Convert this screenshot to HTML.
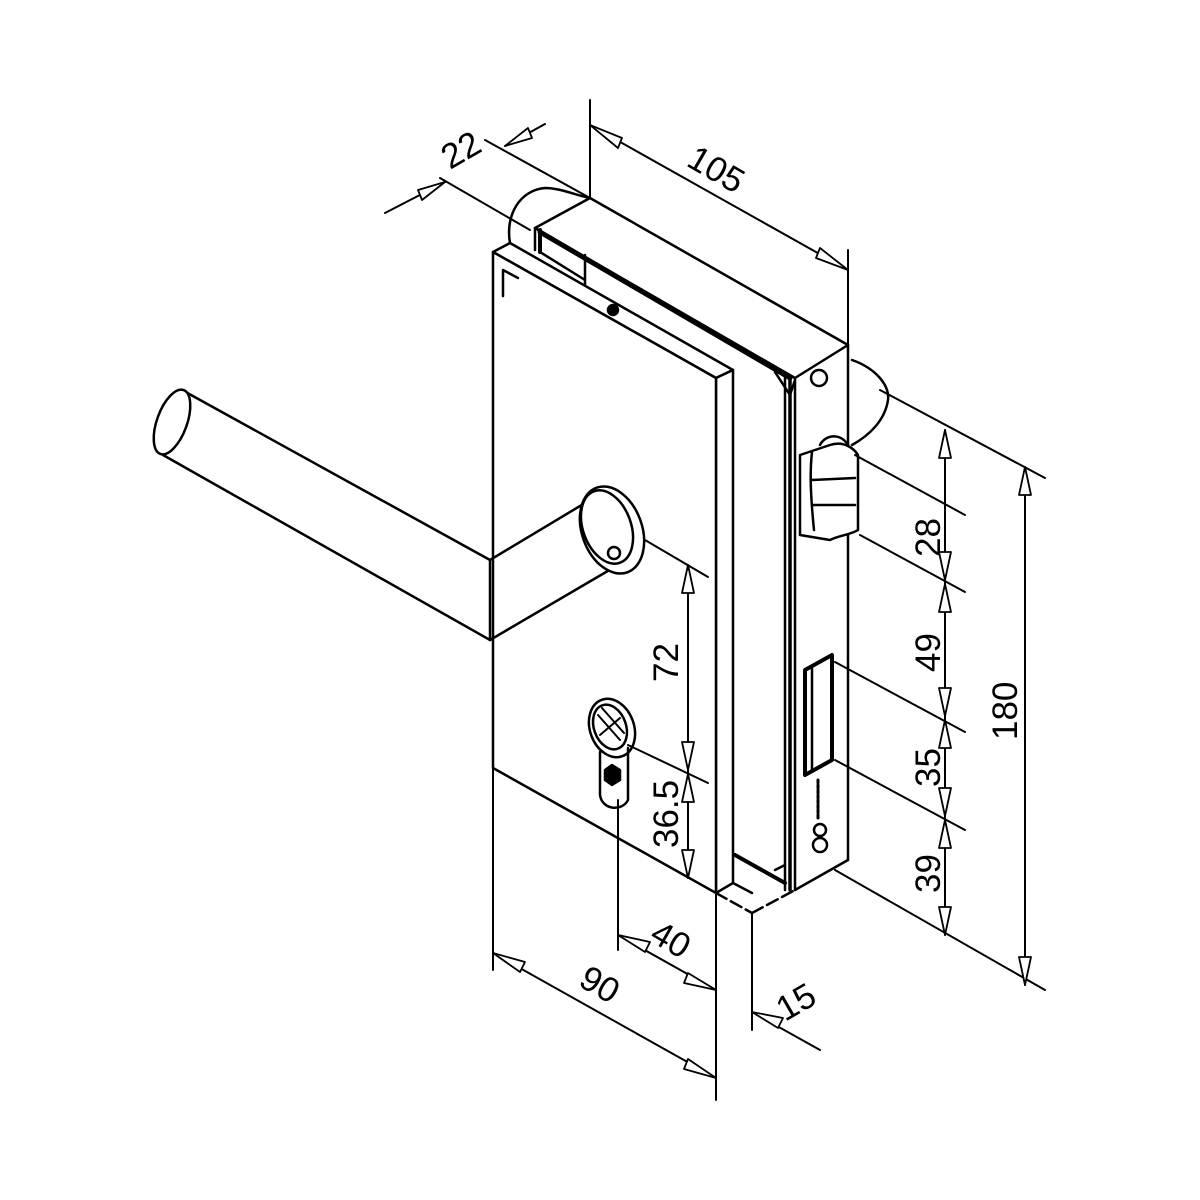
<!DOCTYPE html>
<html><head><style>html,body{margin:0;padding:0;background:#fff}svg{display:block}text{font-family:"Liberation Sans",sans-serif;font-size:35px;fill:#000}</style></head>
<body>
<svg width="1200" height="1200" viewBox="0 0 1200 1200" xmlns="http://www.w3.org/2000/svg">
<g fill="none" stroke="#000" stroke-width="2.5" stroke-linejoin="round" stroke-linecap="round">
<polygon points="535,228 590,198 848,345 795,378" fill="#fff"/>
<line x1="535" y1="228" x2="535" y2="250"/>
<line x1="540" y1="230" x2="540" y2="252" stroke-width="4"/>
<line x1="540" y1="232" x2="790" y2="378" stroke-width="5"/>
<line x1="585" y1="255" x2="585" y2="285"/>
<line x1="540" y1="252" x2="585" y2="280"/>
<path d="M510,243 C505,215 520,190 545,188 C560,188 575,195 590,198"/>
<path d="M852,360 C875,368 890,385 888,400 C885,420 870,435 852,445"/>
<line x1="785" y1="378" x2="785" y2="890"/>
<line x1="790" y1="380" x2="790" y2="890" stroke-width="3.5"/>
<line x1="795" y1="378" x2="795" y2="890"/>
<line x1="848" y1="345" x2="848" y2="860"/>
<line x1="795" y1="890" x2="848" y2="860"/>
<line x1="735" y1="855" x2="785" y2="883" stroke-width="4"/>
<line x1="775" y1="870" x2="785" y2="865"/>
<path d="M775,372 L790,395 L795,380"/>
<circle cx="819" cy="378" r="8"/>
<circle cx="820" cy="845" r="7"/>
<circle cx="820" cy="830" r="6"/>
<path d="M800,455 L830,445 C845,440 855,450 858,455 L858,530 C850,535 840,535 830,540 L800,535 Z" fill="#fff"/>
<path d="M812,452 C810,470 810,490 814,530"/>
<path d="M812,480 L855,478 M812,505 L855,505"/>
<path d="M820,445 C825,435 840,432 848,445"/>
<polygon points="805,670 832,655 832,760 805,775" stroke-width="4"/>
<line x1="812" y1="668" x2="812" y2="770"/>
<line x1="818" y1="780" x2="818" y2="820" stroke-width="3" stroke-dasharray="3,2"/>
<polygon points="493,252 510,243 733,370 716,378" fill="#fff"/>
<polygon points="716,378 733,370 733,883 716,893" fill="#fff"/>
<polygon points="493,252 716,378 716,893 493,768" fill="#fff"/>
<path d="M503,296 L503,270 L518,278"/>
<circle cx="613" cy="310" r="5" fill="#000"/>
<line x1="716" y1="893" x2="752" y2="913" stroke-dasharray="12,5"/>
<line x1="752" y1="913" x2="795" y2="890" stroke-dasharray="12,5"/>
<line x1="733" y1="883" x2="752" y2="893"/>
<path d="M490,560 L182,390 M490,640 L163,455"/>
<ellipse cx="172" cy="422" rx="15" ry="34" transform="rotate(20 172 422)" fill="#fff"/>
<path d="M490,560 L490,640"/>
<path d="M490,560 L590,500 M490,640 L618,565"/>
<ellipse cx="612" cy="530" rx="30" ry="45" transform="rotate(-20 612 530)" fill="#fff"/>
<ellipse cx="607" cy="527" rx="24" ry="38" transform="rotate(-20 607 527)"/>
<circle cx="614" cy="553" r="6"/>
<ellipse cx="612" cy="728" rx="22" ry="30" transform="rotate(-20 612 728)" fill="#fff"/>
<ellipse cx="610" cy="727" rx="16" ry="23" transform="rotate(-20 610 727)"/>
<path d="M598,715 L620,740 M602,708 L624,733 M600,735 L620,718" stroke-width="2"/>
<path d="M600,752 L600,795 C602,810 622,812 628,800 L628,748"/>
<polygon points="605,770 612,765 620,770 620,780 612,785 605,780" fill="#000"/>
<g stroke-width="2">
<line x1="385" y1="213" x2="445" y2="182"/>
<line x1="440" y1="178" x2="530" y2="230"/>
<line x1="485" y1="140" x2="590" y2="198"/>
<line x1="505" y1="146" x2="545" y2="124"/>
<line x1="590" y1="100" x2="590" y2="198"/>
<line x1="848" y1="250" x2="848" y2="345"/>
<line x1="590" y1="125" x2="848" y2="270"/>
<line x1="880" y1="390" x2="1045" y2="478"/>
<line x1="835" y1="870" x2="1045" y2="990"/>
<line x1="1025" y1="467" x2="1025" y2="985"/>
<line x1="945" y1="430" x2="945" y2="935"/>
<line x1="855" y1="455" x2="965" y2="515"/>
<line x1="860" y1="535" x2="965" y2="592"/>
<line x1="835" y1="662" x2="965" y2="732"/>
<line x1="835" y1="760" x2="965" y2="830"/>
<line x1="645" y1="540" x2="708" y2="577"/>
<line x1="628" y1="745" x2="708" y2="783"/>
<line x1="688" y1="565" x2="688" y2="878"/>
<line x1="493" y1="768" x2="493" y2="970"/>
<line x1="716" y1="893" x2="716" y2="1100"/>
<line x1="493" y1="953" x2="716" y2="1078"/>
<line x1="618" y1="800" x2="618" y2="950"/>
<line x1="618" y1="935" x2="716" y2="990"/>
<line x1="752" y1="913" x2="752" y2="1030"/>
<line x1="752" y1="1012" x2="820" y2="1050"/>
</g>
<g stroke-width="1.8" fill="#fff">
<polygon points="445,182 418,190 422,200"/>
<polygon points="505,146 532,138 528,128"/>
<polygon points="590,125 618,148 622,138"/>
<polygon points="848,270 820,248 816,258"/>
<polygon points="1025,467 1019,495 1031,495"/>
<polygon points="1025,985 1019,957 1031,957"/>
<polygon points="945,430 939,458 951,458"/>
<polygon points="945,580 939,552 951,552"/>
<polygon points="945,584 939,612 951,612"/>
<polygon points="945,716 939,688 951,688"/>
<polygon points="945,720 939,748 951,748"/>
<polygon points="945,816 939,788 951,788"/>
<polygon points="945,820 939,848 951,848"/>
<polygon points="945,935 939,907 951,907"/>
<polygon points="688,565 682,593 694,593"/>
<polygon points="688,770 682,742 694,742"/>
<polygon points="688,774 682,802 694,802"/>
<polygon points="688,878 682,850 694,850"/>
<polygon points="493,953 520,972 525,962"/>
<polygon points="716,1078 688,1059 684,1069"/>
<polygon points="618,935 645,952 650,942"/>
<polygon points="716,990 688,973 684,983"/>
<polygon points="752,1012 778,1028 783,1018"/>
</g>
</g>
<text transform="translate(450,170) rotate(-30)">22</text>
<text transform="translate(685,165) rotate(30)">105</text>
<text transform="translate(1017,740) rotate(-90)">180</text>
<text transform="translate(940,557) rotate(-90)">28</text>
<text transform="translate(940,672) rotate(-90)">49</text>
<text transform="translate(940,787) rotate(-90)">35</text>
<text transform="translate(940,893) rotate(-90)">39</text>
<text transform="translate(678,682) rotate(-90)">72</text>
<text transform="translate(678,848) rotate(-90)">36.5</text>
<text transform="translate(577,985) rotate(30)">90</text>
<text transform="translate(648,940) rotate(30)">40</text>
<text transform="translate(785,1022) rotate(-30)">15</text>
</svg>
</body></html>
